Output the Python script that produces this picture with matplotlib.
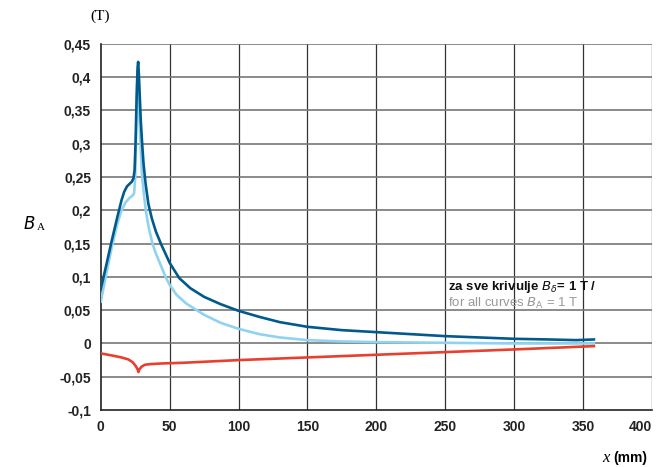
import matplotlib
matplotlib.use("Agg")
import matplotlib.pyplot as plt
from matplotlib.ticker import FuncFormatter

plt.rcParams['font.family'] = ['Liberation Sans', 'DejaVu Sans']

# Podaci ocitani s grafa (x u mm, B u T)
x_tamna = [0, 4, 8, 12, 15, 17, 19, 21, 22.5, 23.7, 24.5, 25.2, 26, 26.7, 27.1, 27.6, 28.3, 29, 30, 31, 32.5, 34.5, 37, 40, 44, 50, 57, 65, 75, 87, 100, 115, 130, 150, 175, 200, 225, 250, 275, 300, 325, 345, 358]
b_tamna = [0.082, 0.118, 0.155, 0.19, 0.215, 0.228, 0.236, 0.24, 0.243, 0.248, 0.26, 0.3, 0.37, 0.415, 0.423, 0.405, 0.37, 0.335, 0.3, 0.27, 0.24, 0.21, 0.188, 0.168, 0.148, 0.121, 0.098, 0.083, 0.07, 0.059, 0.049, 0.04, 0.032, 0.025, 0.02, 0.017, 0.014, 0.011, 0.009, 0.007, 0.006, 0.005, 0.006]

x_svijetla = [0, 4, 8, 12, 15, 18, 21, 23, 24.2, 25, 25.7, 26.3, 26.7, 27.3, 28, 29, 30, 31.5, 33, 35, 37.5, 40, 43, 47, 50, 55, 62, 75, 87, 100, 115, 130, 150, 175, 200, 250, 300, 358]
b_svijetla = [0.063, 0.105, 0.145, 0.18, 0.2, 0.212, 0.219, 0.222, 0.226, 0.25, 0.32, 0.385, 0.41, 0.39, 0.34, 0.29, 0.25, 0.22, 0.195, 0.172, 0.15, 0.135, 0.12, 0.1, 0.088, 0.073, 0.06, 0.043, 0.031, 0.022, 0.014, 0.009, 0.005, 0.003, 0.002, 0.001, 0.0, 0.0]

x_crvena = [0, 8, 15, 20, 23, 25, 26.5, 27.3, 28, 29.5, 32, 36, 45, 60, 100, 150, 200, 250, 300, 358]
b_crvena = [-0.015, -0.018, -0.021, -0.024, -0.028, -0.033, -0.038, -0.043, -0.039, -0.035, -0.032, -0.031, -0.03, -0.029, -0.025, -0.021, -0.017, -0.013, -0.009, -0.004]

fig = plt.figure(figsize=(6.59, 4.67), dpi=100)
ax = fig.add_axes([0.153, 0.122, 0.836, 0.784])

ax.plot(x_svijetla, b_svijetla, color='#8fd3f0', lw=1.9, zorder=3, solid_joinstyle='round')
ax.plot(x_tamna, b_tamna, color='#005a8c', lw=1.9, zorder=4, solid_joinstyle='round')
ax.plot(x_crvena, b_crvena, color='#e8402f', lw=1.9, zorder=3, solid_joinstyle='round')

ax.set_xlim(0, 400)
ax.set_ylim(-0.1, 0.45)
ax.set_xticks(range(0, 401, 50))
ax.set_yticks([i * 0.05 for i in range(-2, 10)])
ax.yaxis.set_major_formatter(FuncFormatter(lambda v, p: f"{v:.2f}".rstrip('0').rstrip('.').replace('.', ',') if abs(v) > 1e-9 else "0"))

# mreza
for xv in range(50, 401, 50):
    ax.axvline(xv, color='#333333', lw=0.9, zorder=1)
for yv in [i * 0.05 for i in range(-1, 10)]:
    ax.axhline(yv, color='#777777', lw=1.2, zorder=1)

for s in ['top', 'right']:
    ax.spines[s].set_visible(False)
ax.spines['left'].set_color('#222222')
ax.spines['bottom'].set_color('#222222')
ax.spines['left'].set_linewidth(1.2)
ax.spines['bottom'].set_linewidth(1.2)
ax.tick_params(length=0, labelsize=10, pad=7, colors='#222222')
for lbl in ax.get_xticklabels() + ax.get_yticklabels():
    lbl.set_fontweight('bold')
ax.get_xticklabels()[-1].set_ha('right')

fig.text(0.152, 0.965, "(T)", family='Liberation Serif', fontsize=11, ha='center', va='center')
fig.text(0.045, 0.52, r"$B$", family='Liberation Serif', fontsize=12, ha='center', va='center')
fig.text(0.062, 0.512, "A", family='Liberation Serif', fontsize=8, ha='center', va='center')
fig.text(0.92, 0.02, "x", family='Liberation Serif', style='italic', fontsize=12, ha='center', va='center')
fig.text(0.957, 0.02, "(mm)", fontsize=10, fontweight='bold', ha='center', va='center')

ax.text(252, 0.085, r"za sve krivulje $B_\delta$= 1 T /", fontsize=9.5, fontweight='bold', color='#111111', va='center', zorder=5)
ax.text(252, 0.060, r"for all curves $B_{\rm A}$ = 1 T", fontsize=9.5, color='#999999', va='center', zorder=5)

fig.savefig("out.png", dpi=100)
